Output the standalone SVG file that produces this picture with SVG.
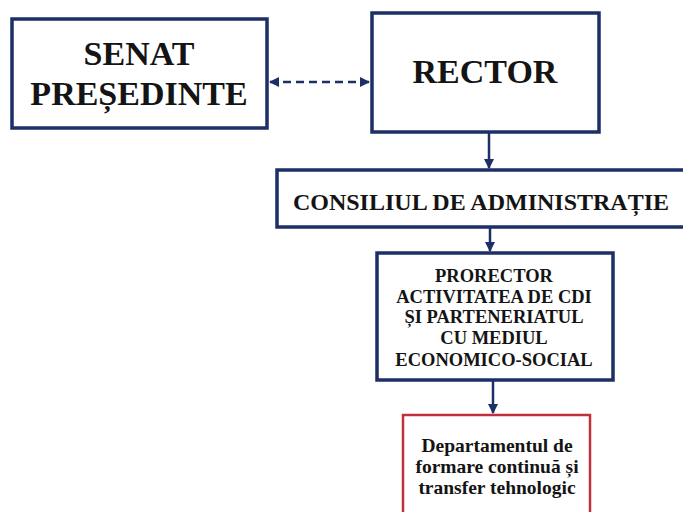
<svg xmlns="http://www.w3.org/2000/svg" width="683" height="512" viewBox="0 0 683 512">
<defs>
<style>
.box{fill:#fff;stroke:#1c2f66;stroke-width:3.5}
.red{fill:#fff;stroke:#c0303e;stroke-width:2.5}
.t{font-family:"Liberation Serif","Times New Roman",serif;font-weight:bold;fill:#141414;text-anchor:middle}
.ln{stroke:#1c2f66;stroke-width:2.5;fill:none}
</style>
<marker id="ah" viewBox="0 0 10 10" refX="9" refY="5" markerWidth="4" markerHeight="4" orient="auto-start-reverse" markerUnits="strokeWidth">
<path d="M0,0 L10,5 L0,10 Z" fill="#1c2f66"/>
</marker>
</defs>
<rect width="683" height="512" fill="#fff"/>
<g id="senat">
<rect class="box" x="12" y="19" width="255" height="109"/>
<text class="t" x="139" y="65" font-size="34">SENAT</text>
<text class="t" x="139" y="105" font-size="34">PREȘEDINTE</text>
</g>
<g id="rector">
<rect class="box" x="372" y="13" width="227" height="119"/>
<text class="t" x="485" y="83" font-size="34">RECTOR</text>
</g>
<g id="consiliu">
<rect class="box" x="277" y="170" width="420" height="57"/>
<text class="t" x="481" y="210" font-size="24">CONSILIUL DE ADMINISTRAȚIE</text>
</g>
<g id="prorector">
<rect class="box" x="377" y="253" width="236" height="127"/>
<text class="t" x="494" y="282" font-size="18.5">PRORECTOR</text>
<text class="t" x="494" y="303" font-size="18.5">ACTIVITATEA DE CDI</text>
<text class="t" x="494" y="323" font-size="18.5">ȘI PARTENERIATUL</text>
<text class="t" x="494" y="344" font-size="18.5">CU MEDIUL</text>
<text class="t" x="494" y="366" font-size="18.5">ECONOMICO-SOCIAL</text>
</g>
<g id="departament">
<rect class="red" x="403" y="415" width="187" height="110"/>
<text class="t" x="497" y="452" font-size="19.5">Departamentul de</text>
<text class="t" x="497" y="473" font-size="19.5">formare continuă și</text>
<text class="t" x="497" y="494" font-size="19.5">transfer tehnologic</text>
</g>
<g id="connectors">
<line class="ln" x1="270" y1="82" x2="369" y2="82" stroke-dasharray="8,5" marker-start="url(#ah)" marker-end="url(#ah)"/>
<line class="ln" x1="489" y1="132" x2="489" y2="168" marker-end="url(#ah)"/>
<line class="ln" x1="490" y1="227" x2="490" y2="251" marker-end="url(#ah)"/>
<line class="ln" x1="493" y1="380" x2="493" y2="413" marker-end="url(#ah)"/>
</g>
</svg>
